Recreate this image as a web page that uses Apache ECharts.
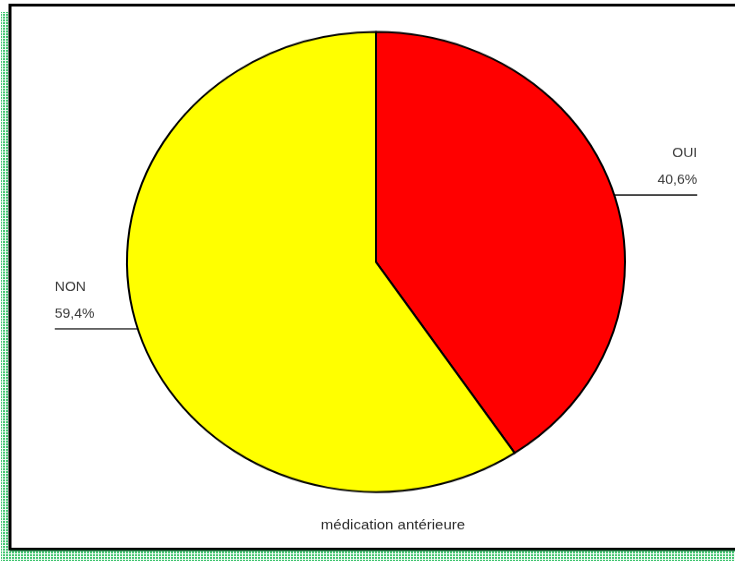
<!DOCTYPE html>
<html>
<head>
<meta charset="utf-8">
<script src="https://cdn.jsdelivr.net/npm/echarts@6/dist/echarts.min.js"></script>
<style>
  html, body { margin: 0; padding: 0; background: #fff; overflow: hidden; width: 735px; height: 561px; }
  /* le camembert d'origine est légèrement aplati : on écrase le rendu en hauteur */
  #chart { width: 735px; height: 607px; transform: scaleY(0.9237); transform-origin: 0 0; }
</style>
</head>
<body>
<div id="chart"></div>
<script>
  // données
  var categories = ['OUI', 'NON'];
  var percents = [40.6, 59.4];
  var sliceColors = ['#ff0000', '#ffff00'];
  var chartTitle = 'médication antérieure';

  // petit motif pointillé vert pour l'ombre du cadre
  function dotPattern() {
    var c = document.createElement('canvas');
    c.width = 3;
    c.height = 3;
    var ctx = c.getContext('2d');
    ctx.fillStyle = '#f2fbf5';
    ctx.fillRect(0, 0, 3, 3);
    ctx.fillStyle = '#3cc46d';
    ctx.fillRect(0, 0, 2, 2);
    return c;
  }

  var chart = echarts.init(document.getElementById('chart'));

  var pieData = [];
  for (var i = 0; i < categories.length; i++) {
    pieData.push({
      name: categories[i],
      value: percents[i],
      itemStyle: {color: sliceColors[i]}
    });
  }

  chart.setOption({
    animation: false,
    backgroundColor: '#fff',
    graphic: [
      {
        type: 'rect',
        z: -10,
        shape: {x: 1, y: 13, width: 735, height: 600},
        style: {fill: {image: dotPattern(), repeat: 'repeat'}}
      },
      {
        type: 'rect',
        z: -9,
        shape: {x: 10, y: 5.4, width: 740, height: 589},
        style: {fill: '#fff', stroke: '#000', lineWidth: 3}
      },
      {
        type: 'rect',
        z: -9,
        shape: {x: 10, y: 595.5, width: 740, height: 1.2},
        style: {fill: '#0b7a35'}
      }
    ],
    title: {
      text: chartTitle,
      left: 388,
      top: 556,
      textAlign: 'center',
      textStyle: {
        fontFamily: 'Liberation Sans, Arial, sans-serif',
        fontSize: 15,
        fontWeight: 'normal',
        color: '#2b2b2b'
      }
    },
    series: [
      {
        type: 'pie',
        center: [376, 283.6],
        radius: 249,
        startAngle: 90,
        clockwise: true,
        avoidLabelOverlap: false,
        silent: true,
        itemStyle: {borderColor: '#000', borderWidth: 2},
        label: {
          show: true,
          position: 'outside',
          fontFamily: 'Liberation Sans, Arial, sans-serif',
          fontSize: 14,
          color: '#3a3a3a',
          lineHeight: 29,
          formatter: function (p) {
            return p.name + '\n' + p.value.toFixed(1).replace('.', ',') + '%';
          }
        },
        labelLine: {
          show: true,
          length: 0,
          length2: 83,
          smooth: false,
          lineStyle: {color: '#2a2a2a', width: 1.6}
        },
        labelLayout: function (params) {
          var pts = params.labelLinePoints;
          if (!pts) return {};
          var sx = pts[0][0], sy = pts[0][1];
          var ex = pts[2][0];
          var isRight = ex > sx;
          return {
            x: ex,
            y: sy - 1,
            align: isRight ? 'right' : 'left',
            verticalAlign: 'bottom',
            labelLinePoints: [[sx, sy], [sx, sy], [ex, sy]]
          };
        },
        data: pieData
      }
    ]
  });
</script>
</body>
</html>
